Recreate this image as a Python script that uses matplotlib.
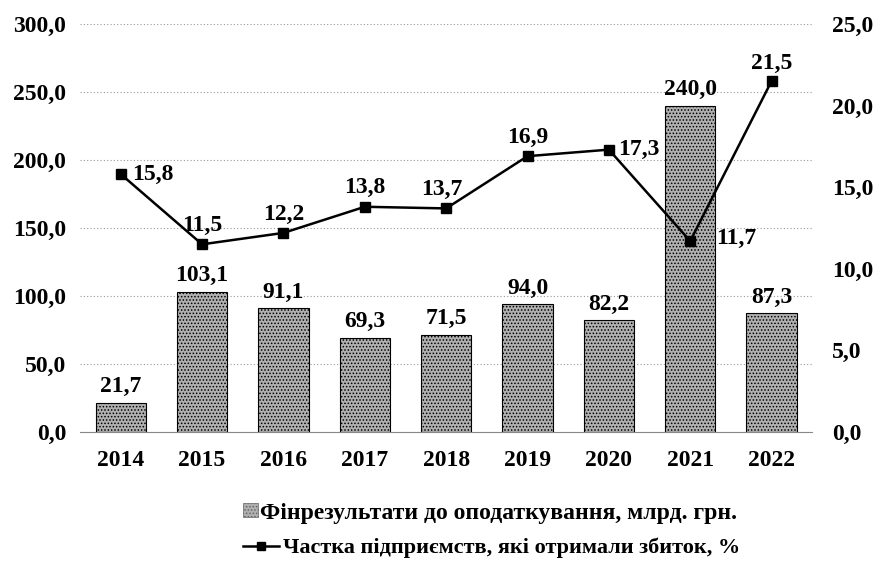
import numpy as np
import matplotlib.pyplot as plt
from matplotlib.lines import Line2D
from matplotlib.patches import Patch

plt.rcParams.update({
    'font.family': ['Liberation Serif', 'DejaVu Serif'],
    'font.weight': 'bold',
    'font.size': 17,
    'hatch.color': '#4d4d4d',
    'hatch.linewidth': 0.7,
})

years = ['2014', '2015', '2016', '2017', '2018', '2019', '2020', '2021', '2022']
profit = [21.7, 103.1, 91.1, 69.3, 71.5, 94.0, 82.2, 240.0, 87.3]
loss_share = [15.8, 11.5, 12.2, 13.8, 13.7, 16.9, 17.3, 11.7, 21.5]

# label placement for the line points: (dx points, dy points, ha, va)
line_lbl_pos = [
    (8, 0, 'left', 'center'),
    (0, 6, 'center', 'bottom'),
    (0, 6, 'center', 'bottom'),
    (0, 6, 'center', 'bottom'),
    (-3, 6, 'center', 'bottom'),
    (0, 6, 'center', 'bottom'),
    (7, 0, 'left', 'center'),
    (19, 2, 'left', 'center'),
    (0, 5, 'center', 'bottom'),
]

def fmt(v):
    return f'{v:.1f}'.replace('.', ',')

fig = plt.figure(figsize=(8.8, 5.7), dpi=100)
ax = fig.add_axes([0.091, 0.242, 0.832, 0.716])
x = np.arange(len(years))

ax.bar(x, profit, width=0.62, facecolor='#b0b0b0', edgecolor='black',
       linewidth=0.8, hatch='.....', zorder=2)
for xi, v in zip(x, profit):
    ax.annotate(fmt(v), (xi, v), xytext=(0, 4), textcoords='offset points',
                ha='center', va='bottom')

ax.set_xlim(-0.5, len(years) - 0.5)
ax.set_ylim(0, 300)
ax.set_yticks(np.arange(0, 301, 50))
ax.set_yticklabels([fmt(t) for t in np.arange(0, 301, 50)])
ax.set_xticks(x)
ax.set_xticklabels(years)
ax.grid(axis='y', color='#999999', ls=(0, (1, 2)), lw=0.8, zorder=0)
ax.set_axisbelow(True)
for s in ['top', 'right', 'left']:
    ax.spines[s].set_visible(False)
ax.spines['bottom'].set_color('#888888')
ax.tick_params(axis='x', length=0, pad=13)
ax.tick_params(axis='y', length=0, pad=10)

ax2 = ax.twinx()
ax2.plot(x, loss_share, color='black', lw=1.8, marker='s', markersize=7, zorder=3)
for xi, v, (dx, dy, ha, va) in zip(x, loss_share, line_lbl_pos):
    ax2.annotate(fmt(v), (xi, v), xytext=(dx, dy), textcoords='offset points',
                 ha=ha, va=va)
ax2.set_ylim(0, 25)
ax2.set_yticks(np.arange(0, 26, 5))
ax2.set_yticklabels([fmt(t) for t in np.arange(0, 26, 5)])
for s in ['top', 'right', 'left', 'bottom']:
    ax2.spines[s].set_visible(False)
ax2.tick_params(axis='y', length=0, pad=14)

h1 = [Patch(facecolor='#b0b0b0', edgecolor='#666666', hatch='.....', linewidth=0.5)]
h2 = [Line2D([0], [0], color='black', lw=1.8, marker='s', markersize=6)]
fig.legend(h1, ['Фінрезультати до оподаткування, млрд. грн.'], loc='center left',
           bbox_to_anchor=(243 / 880, 1 - 513 / 570), frameon=False,
           borderpad=0, borderaxespad=0, handlelength=0.65, handleheight=0.5,
           handletextpad=0.05)
fig.legend(h2, ['Частка підприємств, які отримали збиток, %'], loc='center left',
           bbox_to_anchor=(243 / 880, 1 - 548 / 570), frameon=False,
           borderpad=0, borderaxespad=0, handlelength=1.6, handletextpad=0.2,
           prop={'size': 16})

fig.savefig('out.png', dpi=100)
